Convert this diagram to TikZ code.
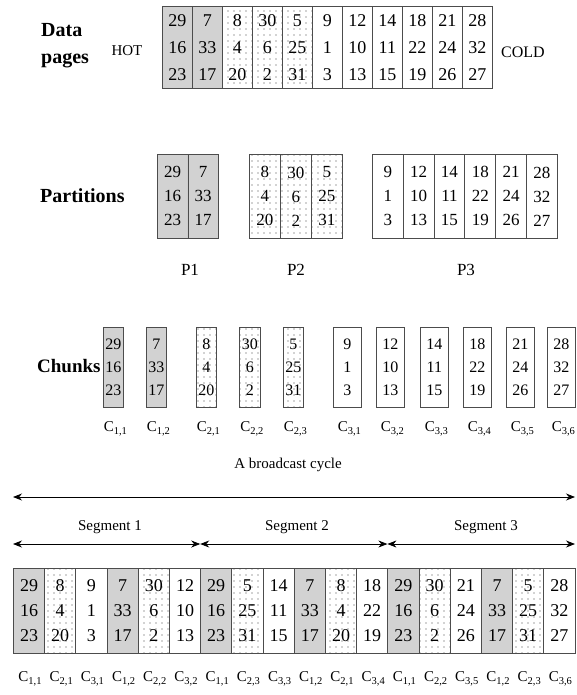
\documentclass[tikz,border=0pt]{standalone}
\usepackage{fontspec}
\setmainfont{LiberationSerif}[
  Extension=.ttf,
  UprightFont=*-Regular,
  BoldFont=*-Bold,
  ItalicFont=*-Italic,
  BoldItalicFont=*-BoldItalic]
\usetikzlibrary{patterns.meta,arrows.meta}

% chunk name with its two-part index set low
\newcommand{\chunkname}[2]{C\raisebox{-0.5ex}{\fontsize{10.5}{10.5}\selectfont#1,#2}}

\begin{document}
\begin{tikzpicture}[x=1pt,y=-1pt,
  cell/.style={draw=black!70, line width=0.8pt, anchor=north west, inner sep=0pt, align=center},
  datacell/.style={cell, minimum width=30pt, minimum height=82pt, font=\fontsize{18}{27}\selectfont},
  partcell/.style={cell, minimum height=84pt, font=\fontsize{17}{24}\selectfont},
  chunkcell/.style={cell, minimum height=80pt, font=\fontsize{16}{23}\selectfont},
  slotcell/.style={cell, minimum width=31.2pt, minimum height=85pt, font=\fontsize{18}{25}\selectfont},
  hot/.style={preaction={fill=black!14}, pattern={Dots[distance=2pt,radius=0.45pt]}, pattern color=black!55},
  warm/.style={pattern={Dots[distance=6pt,radius=0.55pt]}, pattern color=black!75},
  cold/.style={fill=white},
  rowhead/.style={font=\bfseries\fontsize{20}{27}\selectfont, align=left, anchor=west, inner sep=0pt},
  tag/.style={font=\fontsize{15}{15}\selectfont, inner sep=0pt},
  chunktag/.style={font=\fontsize{15}{15}\selectfont, inner sep=0pt},
  span/.style={line width=0.8pt, {Stealth[length=9pt,width=7pt]}-{Stealth[length=9pt,width=7pt]}}
]
\useasboundingbox (0,0) rectangle (576,695);

% ---------- data pages ----------
\node[rowhead] (datahd) at (41,46) {Data\\pages};
\node[tag, font=\fontsize{15}{15}\selectfont] (hot) at (127,51) {HOT};
\foreach \i/\kind/\vals in {0/hot/{29\\16\\23},1/hot/{7\\33\\17},2/warm/{8\\4\\20},
    3/warm/{30\\6\\2},4/warm/{5\\25\\31},5/cold/{9\\1\\3},6/cold/{12\\10\\13},
    7/cold/{14\\11\\15},8/cold/{18\\22\\19},9/cold/{21\\24\\26},10/cold/{28\\32\\27}}
  \node[datacell,\kind] (d\i) at ({162+30*\i},6) {\vals};
\node[tag, font=\fontsize{16}{16}\selectfont] (cold) at (523,52) {COLD};

% ---------- partitions ----------
\node[rowhead] (parthd) at (40,196) {Partitions};
\foreach \i/\vals in {0/{29\\16\\23},1/{7\\33\\17}}
  \node[partcell,hot,minimum width=30.5pt] (pa\i) at ({157+30.5*\i},154) {\vals};
\foreach \i/\vals in {0/{8\\4\\20},1/{30\\6\\2},2/{5\\25\\31}}
  \node[partcell,warm,minimum width=31pt] (pb\i) at ({249+31*\i},154) {\vals};
\foreach \i/\vals in {0/{9\\1\\3},1/{12\\10\\13},2/{14\\11\\15},3/{18\\22\\19},
    4/{21\\24\\26},5/{28\\32\\27}}
  \node[partcell,cold,minimum width=30.83pt] (pc\i) at ({372+30.83*\i},154) {\vals};
\node[tag, font=\fontsize{17}{17}\selectfont] (P1) at (190,270) {P1};
\node[tag, font=\fontsize{17}{17}\selectfont] (P2) at (296,270) {P2};
\node[tag, font=\fontsize{17}{17}\selectfont] (P3) at (466,270) {P3};

% ---------- chunks ----------
\node[rowhead, font=\bfseries\fontsize{19}{27}\selectfont] (chunkhd) at (37,366) {Chunks};
\foreach \n/\x/\w/\kind/\vals/\a/\b in {
    c11/103/20/hot/{29\\16\\23}/1/1, c12/146/20/hot/{7\\33\\17}/1/2,
    c21/196/20/warm/{8\\4\\20}/2/1, c22/239/21/warm/{30\\6\\2}/2/2,
    c23/283/20/warm/{5\\25\\31}/2/3,
    c31/333/28/cold/{9\\1\\3}/3/1, c32/376/28/cold/{12\\10\\13}/3/2,
    c33/420/28/cold/{14\\11\\15}/3/3, c34/463/28/cold/{18\\22\\19}/3/4,
    c35/506/28/cold/{21\\24\\26}/3/5, c36/547/28/cold/{28\\32\\27}/3/6}
{
  \node[chunkcell,\kind,minimum width=\w pt] (\n) at (\x,327) {\vals};
  \node[chunktag] (\n-name) at ([xshift=2pt,yshift=-21pt]\n.south) {\chunkname{\a}{\b}};
}

% ---------- broadcast cycle and segments ----------
\node[tag] (cyclelbl) at (288,465) {A broadcast cycle};
\coordinate (cycL) at (13,497);
\coordinate (cycR) at (575,497);
\draw[span] (cycL) -- (cycR);

\node[tag] (seg1lbl) at (110,527) {Segment 1};
\node[tag] (seg2lbl) at (297,527) {Segment 2};
\node[tag] (seg3lbl) at (486,527) {Segment 3};
\coordinate (s0) at (13,544);
\coordinate (s1) at (200.2,544);
\coordinate (s2) at (387.4,544);
\coordinate (s3) at (575,544);
\draw[span] (s0) -- (s1);
\draw[span] (s1) -- (s2);
\draw[span] (s2) -- (s3);

% ---------- broadcast order of chunks ----------
\foreach \i/\kind/\vals/\a/\b in {
    1/hot/{29\\16\\23}/1/1, 2/warm/{8\\4\\20}/2/1, 3/cold/{9\\1\\3}/3/1,
    4/hot/{7\\33\\17}/1/2, 5/warm/{30\\6\\2}/2/2, 6/cold/{12\\10\\13}/3/2,
    7/hot/{29\\16\\23}/1/1, 8/warm/{5\\25\\31}/2/3, 9/cold/{14\\11\\15}/3/3,
    10/hot/{7\\33\\17}/1/2, 11/warm/{8\\4\\20}/2/1, 12/cold/{18\\22\\19}/3/4,
    13/hot/{29\\16\\23}/1/1, 14/warm/{30\\6\\2}/2/2, 15/cold/{21\\24\\26}/3/5,
    16/hot/{7\\33\\17}/1/2, 17/warm/{5\\25\\31}/2/3, 18/cold/{28\\32\\27}/3/6}
{
  \node[slotcell,\kind] (b\i) at ({13+31.2*(\i-1)},568) {\vals};
  \node[chunktag] (b\i-name) at ([xshift=1pt,yshift=-25pt]b\i.south) {\chunkname{\a}{\b}};
}
\end{tikzpicture}
\end{document}
